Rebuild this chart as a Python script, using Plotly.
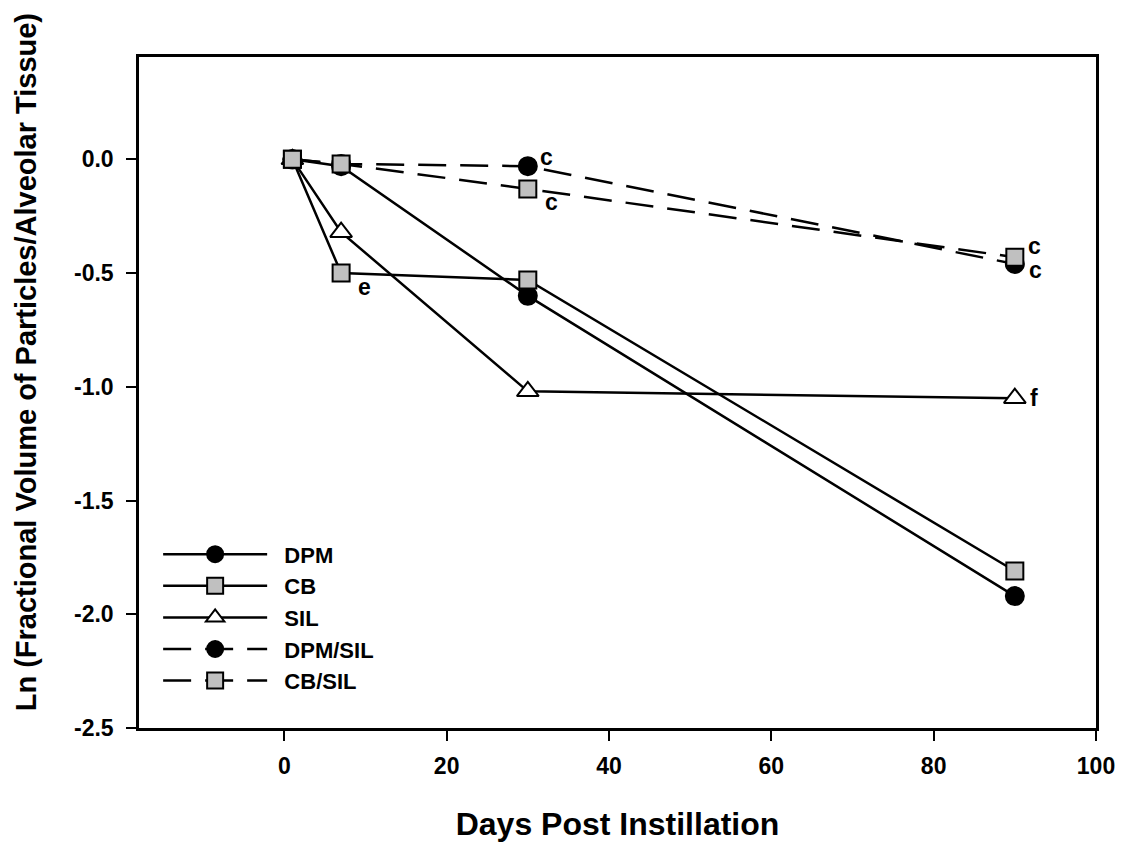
import plotly.graph_objects as go

days = [1, 7, 30, 90]
dpm = [0.0, -0.03, -0.60, -1.92]
cb = [0.0, -0.50, -0.53, -1.81]
sil = [0.0, -0.32, -1.02, -1.05]
dpm_sil = [0.0, -0.02, -0.03, -0.46]
cb_sil = [0.0, -0.02, -0.13, -0.43]

series = [
    ("DPM", dpm, "solid", "circle", "black", 18),
    ("CB", cb, "solid", "square", "#C0C0C0", 17),
    ("SIL", sil, "solid", "triangle-up", "white", 19),
    ("DPM/SIL", dpm_sil, "28px,14px", "circle", "black", 18),
    ("CB/SIL", cb_sil, "28px,14px", "square", "#C0C0C0", 17),
]

fig = go.Figure()
for name, ys, dash, sym, fill, size in series:
    fig.add_trace(go.Scatter(
        x=days, y=ys, name="\u00a0\u00a0<b>%s</b>" % name, mode="lines+markers",
        legendgroup=name,
        line=dict(color="black", width=2.5, dash=dash),
        marker=dict(symbol=sym, size=size, color=fill,
                    line=dict(color="black", width=2)),
    ))

font = "Liberation Sans, Arial, sans-serif"
# letter annotations: (x, y, text, xshift, yshift)
notes = [
    (30, dpm_sil[2], "c", 19, 9),
    (30, cb_sil[2], "c", 24, -13),
    (90, cb_sil[3], "c", 20, 11),
    (90, dpm_sil[3], "c", 21, -6),
    (7, cb[1], "e", 23, -14),
    (90, sil[3], "f", 19, 0),
]
for x, y, t, xs, ys in notes:
    fig.add_annotation(x=x, y=y, text="<b>%s</b>" % t, showarrow=False,
                       xshift=xs, yshift=ys,
                       font=dict(family=font, size=23, color="black"))

# y axis title placed as annotation (offset upward as in the reference)
fig.add_annotation(xref="paper", yref="paper", x=0, y=0.545, xshift=-113,
                   text="<b>Ln (Fractional Volume of Particles/Alveolar Tissue)</b>",
                   textangle=-90, showarrow=False, xanchor="center", yanchor="middle",
                   font=dict(family=font, size=29, color="black"))

xt = [0, 20, 40, 60, 80, 100]
yt = [0, -0.5, -1.0, -1.5, -2.0, -2.5]

fig.update_layout(
    width=1123, height=845,
    margin=dict(l=139, r=27, t=57, b=117, autoexpand=False),
    paper_bgcolor="white", plot_bgcolor="white",
    font=dict(family=font, color="black"),
    showlegend=True,
    legend=dict(x=0.02, y=0.29, xanchor="left", yanchor="top",
                bgcolor="rgba(0,0,0,0)", itemwidth=104,
                font=dict(family=font, size=22), tracegroupgap=0,
                itemsizing="trace"),
    xaxis=dict(range=[-17.9, 100], tickvals=xt, automargin=False,
               ticktext=["<b>%d</b>" % v for v in xt],
               showgrid=False, zeroline=False, showline=True, mirror=True,
               linecolor="black", linewidth=2.5, ticks="outside", ticklen=10,
               tickwidth=2, tickcolor="black", ticklabelstandoff=6,
               tickfont=dict(family=font, size=23),
               title=dict(text="<b>Days Post Instillation</b>",
                          font=dict(family=font, size=32), standoff=35)),
    yaxis=dict(range=[-2.5, 0.45], tickvals=yt, automargin=False,
               ticktext=["<b>%.1f</b>" % v for v in yt],
               showgrid=False, zeroline=False, showline=True, mirror=True,
               linecolor="black", linewidth=2.5, ticks="outside", ticklen=10,
               tickwidth=2, tickcolor="black", ticklabelstandoff=8,
               tickfont=dict(family=font, size=23)),
)

fig.write_html("out.html")
